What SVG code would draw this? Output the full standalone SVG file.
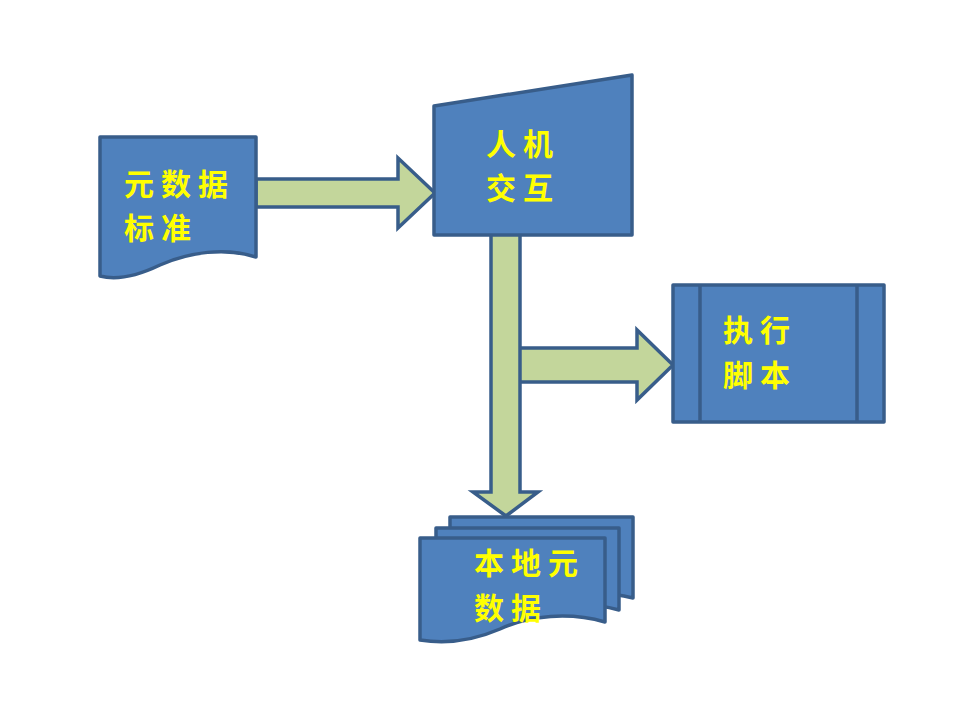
<svg xmlns="http://www.w3.org/2000/svg" width="960" height="720" viewBox="0 0 960 720">
<style>
.node{fill:#4F81BD;stroke:#385D8A;stroke-width:3.5;stroke-linejoin:round}
.arrow{fill:#C3D69B;stroke:#385D8A;stroke-width:3.5;stroke-linejoin:miter}
.line{fill:none;stroke:#385D8A;stroke-width:3.5}
.lbl{font-family:"Noto Sans CJK SC","Noto Sans CJK JP",sans-serif;font-size:30px;font-weight:bold;fill:#FFFF00;letter-spacing:7px;dominant-baseline:central}
</style>
<rect width="960" height="720" fill="#FFFFFF"/>
<g id="connectors">
<path class="arrow" d="M256,179 H398 V158 L435,193 L398,228 V207 H256 Z"/>
<path class="arrow" d="M520,348 H637 V330 L673,365 L637,400 V382 H520"/>
<path class="arrow" d="M491,235 V492 H473 L506,516 L538,492 H520 V235"/>
</g>
<g id="n-standard">
<path class="node" d="M100,137 H256 V257 C225,247 190,252 160,265 C135,277 115,280 100,276 Z"/>
<text class="lbl" x="124" y="182">元数据</text>
<text class="lbl" x="124" y="226">标准</text>
</g>
<g id="n-interaction">
<path class="node" d="M434,106 L632,75 V235 H434 Z"/>
<text class="lbl" x="486" y="142">人机</text>
<text class="lbl" x="486" y="186">交互</text>
</g>
<g id="n-script">
<rect class="node" x="673" y="285" width="211" height="137"/>
<line class="line" x1="700" y1="285" x2="700" y2="422"/>
<line class="line" x1="857" y1="285" x2="857" y2="422"/>
<text class="lbl" x="723" y="328">执行</text>
<text class="lbl" x="723" y="373">脚本</text>
</g>
<g id="n-local">
<path class="node" d="M450,517 H633 V598 C600,590 560,593 530,607 C500,620 475,622 450,618 Z"/>
<path class="node" d="M436,528 H619 V610 C585,601 545,604 515,618 C485,631 460,633 436,629 Z"/>
<path class="node" d="M420,538 H605 V622 C570,612 530,615 500,629 C470,642 445,644 420,640 Z"/>
<text class="lbl" x="474" y="561">本地元</text>
<text class="lbl" x="474" y="606">数据</text>
</g>
</svg>
